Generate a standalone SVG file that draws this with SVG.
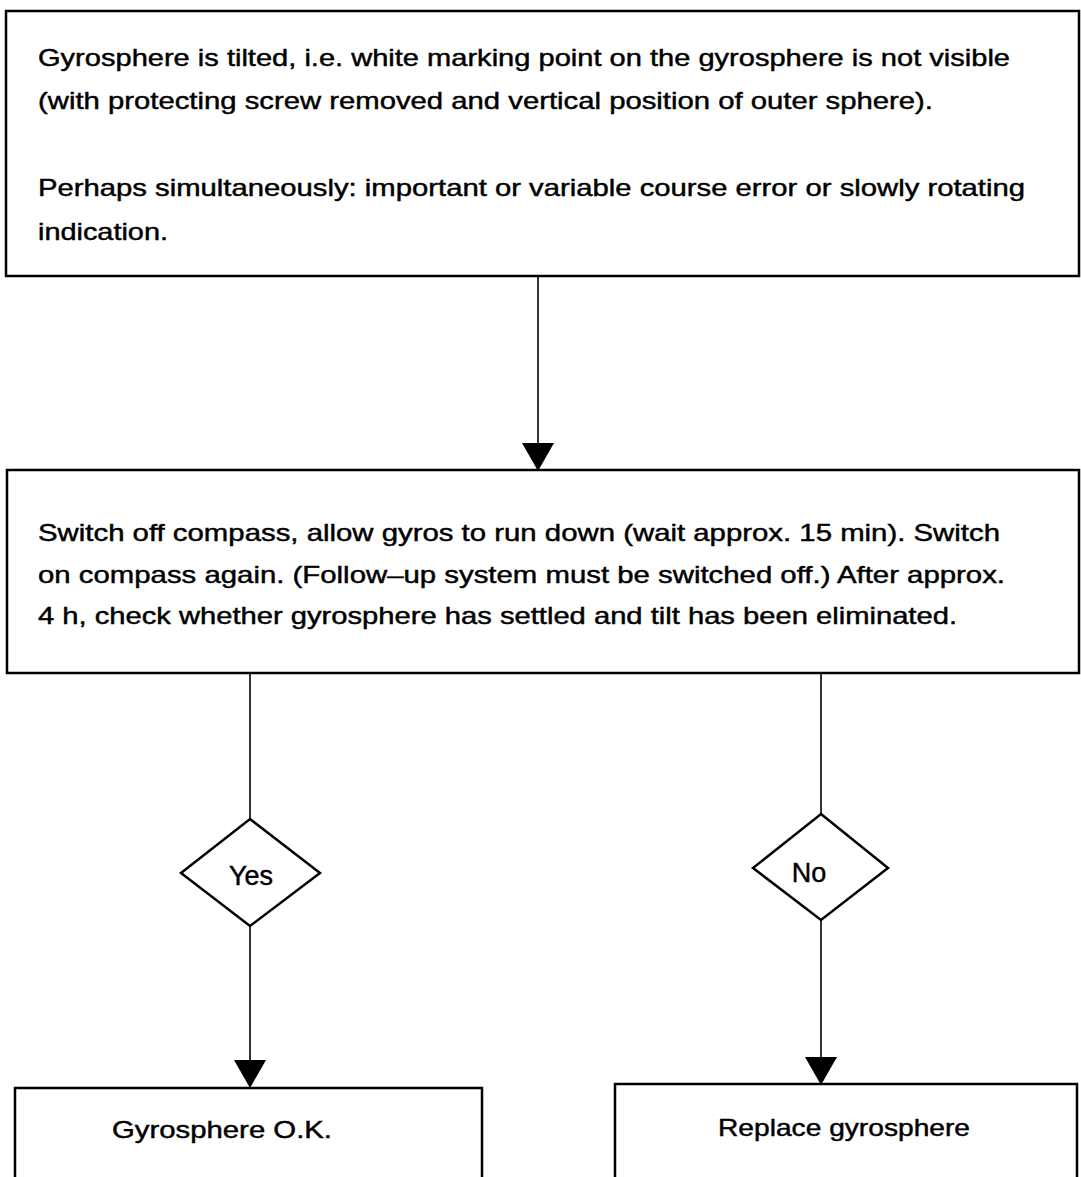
<svg xmlns="http://www.w3.org/2000/svg" width="1081" height="1177" viewBox="0 0 1081 1177">
  <style>
    .box { fill: #ffffff; stroke: #000000; stroke-width: 2.5; }
    .dec { fill: #ffffff; stroke: #000000; stroke-width: 2.5; }
    .link { fill: none; stroke: #000000; stroke-width: 1.6; }
    .t { font-family: "Liberation Sans", Arial, Helvetica, sans-serif; font-size: 24px; fill: #000000; stroke: #000000; stroke-width: 0.45; }
    .d { font-family: "Liberation Sans", Arial, Helvetica, sans-serif; font-size: 27px; fill: #000000; stroke: #000000; stroke-width: 0.45; }
  </style>
  <defs>
    <marker id="arrow" viewBox="0 0 28 32" refX="28" refY="16" markerWidth="28" markerHeight="32" markerUnits="userSpaceOnUse" orient="auto">
      <path d="M0,0 L28,16 L0,32 z" fill="#000000"/>
    </marker>
  </defs>
  <rect width="1081" height="1177" fill="#ffffff"/>

  <!-- connectors -->
  <g id="connectors">
    <line class="link" x1="538" y1="276" x2="538" y2="471" marker-end="url(#arrow)"/>
    <line class="link" x1="250" y1="673" x2="250" y2="819"/>
    <line class="link" x1="250" y1="926" x2="250" y2="1088" marker-end="url(#arrow)"/>
    <line class="link" x1="821" y1="673" x2="821" y2="814"/>
    <line class="link" x1="821" y1="920" x2="821" y2="1085" marker-end="url(#arrow)"/>
  </g>

  <!-- initial condition -->
  <g id="node-symptom">
    <rect class="box" x="6" y="11" width="1073" height="265"/>
    <text class="t" x="38" y="66" textLength="972" lengthAdjust="spacingAndGlyphs">Gyrosphere is tilted, i.e. white marking point on the gyrosphere is not visible</text>
    <text class="t" x="38" y="109" textLength="895" lengthAdjust="spacingAndGlyphs">(with protecting screw removed and vertical position of outer sphere).</text>
    <text class="t" x="38" y="196" textLength="987" lengthAdjust="spacingAndGlyphs">Perhaps simultaneously: important or variable course error or slowly rotating</text>
    <text class="t" x="38" y="240" textLength="130" lengthAdjust="spacingAndGlyphs">indication.</text>
  </g>

  <!-- restart procedure -->
  <g id="node-restart">
    <rect class="box" x="7" y="470" width="1072" height="203"/>
    <text class="t" x="38" y="541" textLength="962" lengthAdjust="spacingAndGlyphs">Switch off compass, allow gyros to run down (wait approx. 15 min). Switch</text>
    <text class="t" x="38" y="583" textLength="967" lengthAdjust="spacingAndGlyphs">on compass again. (Follow–up system must be switched off.) After approx.</text>
    <text class="t" x="38" y="624" textLength="919" lengthAdjust="spacingAndGlyphs">4 h, check whether gyrosphere has settled and tilt has been eliminated.</text>
  </g>

  <!-- decision: yes -->
  <g id="node-yes">
    <polygon class="dec" points="250,819 320,873 250,926 181,873"/>
    <text class="d" x="251" y="885" text-anchor="middle">Yes</text>
  </g>

  <!-- decision: no -->
  <g id="node-no">
    <polygon class="dec" points="821,814 888,868 821,920 753,868"/>
    <text class="d" x="809" y="882" text-anchor="middle">No</text>
  </g>

  <!-- outcome: ok -->
  <g id="node-ok">
    <rect class="box" x="15" y="1088" width="467" height="100"/>
    <text class="t" x="112" y="1138" textLength="220" lengthAdjust="spacingAndGlyphs">Gyrosphere O.K.</text>
  </g>

  <!-- outcome: replace -->
  <g id="node-replace">
    <rect class="box" x="615" y="1084" width="462" height="100"/>
    <text class="t" x="718" y="1136" textLength="252" lengthAdjust="spacingAndGlyphs">Replace gyrosphere</text>
  </g>
</svg>
